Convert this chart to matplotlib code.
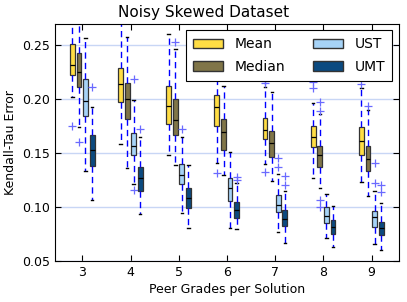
import matplotlib
matplotlib.use('Agg')
import matplotlib.pyplot as plt
from matplotlib.patches import Patch

# Peer grades per solution (x groups)
grades = [3, 4, 5, 6, 7, 8, 9]
methods = ['Mean', 'Median', 'UST', 'UMT']
colors = ['#FFDD44', '#807548', '#A6D3F7', '#0B4A80']

# box stats per group: whislo, q1, med, q3, whishi
mean_stats = [
    [0.202, 0.222, 0.2315, 0.2507, 0.285],
    [0.1583, 0.1975, 0.2139, 0.2284, 0.285],
    [0.1481, 0.1769, 0.1935, 0.212, 0.2599],
    [0.1404, 0.175, 0.1929, 0.2037, 0.235],
    [0.1395, 0.1627, 0.1713, 0.1821, 0.2115],
    [0.1265, 0.1553, 0.1651, 0.175, 0.196],
    [0.1228, 0.1481, 0.1611, 0.1741, 0.21],
]
mean_fliers = [[0.175], [], [], [0.1318], [0.2145, 0.2165, 0.1321], [0.216, 0.210], [0.2136]]

median_stats = [
    [0.174, 0.211, 0.225, 0.243, 0.285],
    [0.1358, 0.1812, 0.2003, 0.2145, 0.2571],
    [0.1389, 0.1667, 0.1806, 0.1997, 0.2463],
    [0.1296, 0.1528, 0.1698, 0.1815, 0.212],
    [0.1244, 0.146, 0.159, 0.1707, 0.2068],
    [0.1179, 0.1373, 0.1481, 0.1565, 0.186],
    [0.1104, 0.1333, 0.1444, 0.1568, 0.1895],
]
median_fliers = [[0.160], [], [0.2525], [], [], [0.1975, 0.1885, 0.1065, 0.0997], [0.1937]]

ust_stats = [
    [0.1336, 0.1843, 0.1981, 0.2182, 0.2562],
    [0.121, 0.1479, 0.1565, 0.1682, 0.1991],
    [0.0941, 0.1213, 0.130, 0.1398, 0.1645],
    [0.0803, 0.1056, 0.1179, 0.1265, 0.1506],
    [0.0772, 0.0951, 0.1019, 0.1111, 0.1306],
    [0.0716, 0.0855, 0.0917, 0.1003, 0.112],
    [0.0655, 0.0812, 0.091, 0.0963, 0.115],
]
ust_fliers = [[], [0.2185, 0.1157], [0.1719], [], [0.145, 0.1373], [], [0.1405, 0.1225]]

umt_stats = [
    [0.1065, 0.1383, 0.1528, 0.1667, 0.1929],
    [0.0932, 0.1151, 0.1265, 0.1367, 0.1651],
    [0.081, 0.0994, 0.1081, 0.1179, 0.1389],
    [0.0794, 0.0901, 0.0972, 0.1043, 0.122],
    [0.0664, 0.0824, 0.0889, 0.0969, 0.1148],
    [0.0627, 0.0747, 0.0812, 0.088, 0.1005],
    [0.0602, 0.0741, 0.0803, 0.0864, 0.1034],
]
umt_fliers = [[0.2114], [0.1722], [], [0.1275, 0.125], [0.129, 0.1204], [], [0.1204, 0.1142]]

all_stats = [mean_stats, median_stats, ust_stats, umt_stats]
all_fliers = [mean_fliers, median_fliers, ust_fliers, umt_fliers]
offsets = [-0.21, -0.072, 0.062, 0.2]

fig = plt.figure(figsize=(4.07, 3.02), dpi=100)
ax = fig.add_axes([55 / 407, 41 / 302, 344 / 407, 237.5 / 302])

for stats, fliers, off, col in zip(all_stats, all_fliers, offsets, colors):
    bxp_stats = []
    for s, fl in zip(stats, fliers):
        bxp_stats.append({'whislo': s[0], 'q1': s[1], 'med': s[2], 'q3': s[3],
                          'whishi': s[4], 'fliers': fl})
    ax.bxp(bxp_stats, positions=[g + off for g in grades], widths=0.1,
           patch_artist=True, manage_ticks=False, capwidths=0.05,
           boxprops=dict(facecolor=col, edgecolor='#333333', linewidth=0.9),
           medianprops=dict(color='black', linewidth=0.9),
           whiskerprops=dict(color='blue', linestyle='--', linewidth=1.0, dashes=(4.5, 3)),
           capprops=dict(color='black', linewidth=1.0),
           flierprops=dict(marker='+', markeredgecolor='#6a6aff', markersize=6,
                           markeredgewidth=0.9, linestyle='none'))

ax.set_xlim(2.43, 9.57)
ax.set_ylim(0.05, 0.27)
ax.set_xticks(grades)
ax.set_yticks([0.05, 0.10, 0.15, 0.20, 0.25])
ax.set_yticklabels(['0.05', '0.10', '0.15', '0.20', '0.25'])
ax.yaxis.grid(True, color='#c8d6f5', linewidth=1.0)
ax.set_axisbelow(True)
ax.tick_params(direction='in', top=True, right=True, labelsize=9, length=4)

# title is centred on the figure, not on the axes
fig.text(0.5, 1 - 12 / 302, 'Noisy Skewed Dataset', fontsize=11, ha='center', va='center')
ax.set_xlabel('Peer Grades per Solution', fontsize=9, labelpad=3)
ax.set_ylabel('Kendall-Tau Error', fontsize=9)

handles = [Patch(facecolor=c, edgecolor='#333333', label=m) for m, c in zip(methods, colors)]
leg = ax.legend(handles=handles, ncol=2, loc='upper right', fontsize=10,
                fancybox=False, edgecolor='black', framealpha=1,
                borderaxespad=0.5, handlelength=2.2, columnspacing=2.0,
                handletextpad=0.8, labelspacing=0.6, borderpad=0.5)
leg.set_zorder(5)
leg.get_frame().set_linewidth(0.8)

fig.savefig('out.png', dpi=100)
